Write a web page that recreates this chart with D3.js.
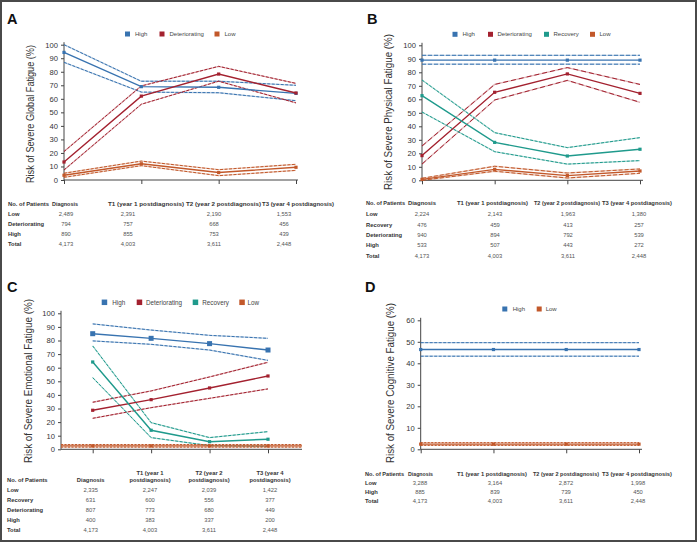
<!DOCTYPE html>
<html><head><meta charset="utf-8">
<script src="https://cdn.jsdelivr.net/npm/d3@7"></script>
<style>
body{margin:0;background:#fff}
svg{display:block}
text{font-family:"Liberation Sans",Arial,Helvetica,sans-serif}
</style>
</head><body>
<svg id="c" width="697" height="542"></svg>
<script>
// ---------- data ----------
const timeLabels = ["Diagnosis","T1 (year 1 postdiagnosis)","T2 (year 2 postdiagnosis)","T3 (year 4 postdiagnosis)"];
const ticks100 = [0,10,20,30,40,50,60,70,80,90,100];
const ticks60 = [0,10,20,30,40,50,60];

// Panel A – global fatigue
const aHigh = [94.3,69,68.5,64],  aHighLo = [87,65,64.5,58.6], aHighHi = [100,73,73,70];
const aDet  = [13.3,62,78.3,64.3], aDetLo = [7.4,56,73,57],    aDetHi = [21,69.5,84,71.4];
const aLow  = [3.5,12,5.5,9.4],    aLowLo = [2,10.6,3.2,7.1],  aLowHi = [5,14,7.6,11.6];

// Panel B – physical fatigue
const bHigh = [89,89,89,89],       bHighLo = [86,86,86,86],     bHighHi = [92.6,92.6,92.6,92.6];
const bDet  = [18.3,65.2,78.8,64.4], bDetLo = [12,59.5,74,57.8], bDetHi = [25.4,71,83.5,71];
const bRec  = [62.7,28.1,18,23],   bRecLo = [50.6,21.2,12,14.6], bRecHi = [74.3,35.3,24.2,31.6];
const bLow  = [0.7,8.1,3.5,6.9],   bLowLo = [0,6.7,1.7,5.2],    bLowHi = [1.5,10.4,5.4,8.4];

// Panel C – emotional fatigue
const cHigh = [85,81.6,77.7,73],   cHighLo = [79.7,77.2,73,65.4], cHighHi = [92.2,87.7,83.8,81.6];
const cDet  = [28.7,36.5,45.1,53.9], cDetLo = [22.8,30.6,37.5,44.4], cDetHi = [34.6,42.9,53.2,64];
const cRec  = [64.2,14,5.6,7.4],   cRecLo = [52.7,8.6,2.7,2.2],  cRecHi = [76,19.6,8.6,13];
const cLow  = [2.5,2.5,2.5,2.5],   cLowLo = [1.6,1.6,1.6,1.6],  cLowHi = [3.5,3.5,3.5,3.5];

// Panel D – cognitive fatigue
const dHigh = [46.4,46.4,46.4,46.4], dHighLo = [43.3,43.3,43.3,43.3], dHighHi = [49.6,49.6,49.6,49.6];
const dLow  = [2.4,2.4,2.4,2.4],   dLowLo = [1.8,1.8,1.8,1.8],  dLowHi = [3.1,3.1,3.1,3.1];

// Tables
const tblA_rows = ["Low","Deteriorating","High","Total"];
const tblA_vals = [["2,489","2,391","2,190","1,553"],["794","757","668","456"],["890","855","753","439"],["4,173","4,003","3,611","2,448"]];
const tblB_rows = ["Low","Recovery","Deteriorating","High","Total"];
const tblB_vals = [["2,224","2,143","1,963","1,380"],["476","459","413","257"],["940","894","792","539"],["533","507","443","272"],["4,173","4,003","3,611","2,448"]];
const tblC_rows = ["Low","Recovery","Deteriorating","High","Total"];
const tblC_vals = [["2,335","2,247","2,039","1,422"],["631","600","556","377"],["807","773","680","449"],["400","383","337","200"],["4,173","4,003","3,611","2,448"]];
const tblD_rows = ["Low","High","Total"];
const tblD_vals = [["3,288","3,164","2,872","1,998"],["885","839","739","450"],["4,173","4,003","3,611","2,448"]];

const colors = {High:"#3873b0", Deteriorating:"#a3212f", Recovery:"#1f9a8c", Low:"#c2582a"};

// ---------- drawing ----------
const svg = d3.select("#c");
svg.append("rect").attr("x",1).attr("y",1).attr("width",695).attr("height",540)
  .attr("fill","#fff").attr("stroke","#4a4a4a").attr("stroke-width",2);

function panel(cfg){
  const g = svg.append("g");
  const x = d3.scalePoint().domain(timeLabels).range(cfg.xRange);
  const y = d3.scaleLinear().domain([0,cfg.yMax]).range([cfg.y0,cfg.y1]);

  g.append("text").attr("x",cfg.letterX).attr("y",cfg.letterY).text(cfg.letter)
    .attr("font-size",14.5).attr("font-weight","bold").attr("fill","#111");

  const ya = g.append("g").attr("transform",`translate(${cfg.axisX},0)`)
    .call(d3.axisLeft(y).tickValues(cfg.yTicks).tickSize(3).tickPadding(3).tickSizeOuter(0));
  ya.select(".domain").remove();
  ya.selectAll(".tick line").attr("stroke","#444");
  ya.selectAll(".tick text").attr("font-size",7.6).attr("fill","#333")
    .attr("font-family","'Liberation Sans',Arial,sans-serif");
  g.append("line").attr("x1",cfg.axisX).attr("x2",cfg.axisX).attr("y1",cfg.y0).attr("y2",cfg.y1-2.5)
    .attr("stroke","#444").attr("stroke-width",1);

  const xa = g.append("g").attr("transform",`translate(0,${cfg.y0})`)
    .call(d3.axisBottom(x).tickSize(4).tickFormat(""));
  xa.select(".domain").remove();
  xa.selectAll(".tick line").attr("stroke","#444");
  g.append("line").attr("x1",cfg.axisX).attr("x2",cfg.axisEnd).attr("y1",cfg.y0).attr("y2",cfg.y0)
    .attr("stroke","#444").attr("stroke-width",1);

  g.append("text").attr("transform",`translate(${cfg.titleX},${cfg.titleY}) rotate(-90)`)
    .attr("text-anchor","middle").attr("font-size",11.5).attr("fill","#333")
    .attr("textLength",cfg.titleLen).attr("lengthAdjust","spacingAndGlyphs")
    .text(cfg.title);

  cfg.legend.forEach(l=>{
    g.append("rect").attr("x",l.sx).attr("y",cfg.legendY-cfg.legSq/2).attr("width",cfg.legSq).attr("height",cfg.legSq)
      .attr("fill",colors[l.name]);
    g.append("text").attr("x",l.tx).attr("y",cfg.legendY).attr("dy","0.35em")
      .attr("font-size",cfg.legFont).attr("fill","#444").text(l.name);
  });

  const line = d3.line().x((d,i)=>x(timeLabels[i])).y(d=>y(d));
  const plot = g.append("g");
  cfg.series.forEach(s=>{
    const col = colors[s.name];
    [s.lo,s.hi].forEach(b=>{
      const path = s.full ? `M${cfg.axisX},${y(b[0])}H${cfg.axisEnd}` : line(b);
      plot.append("path").attr("d",path).attr("fill","none").attr("stroke",col)
        .attr("stroke-opacity",0.35).attr("stroke-width",1.3);
      plot.append("path").attr("d",path).attr("fill","none").attr("stroke",col)
        .attr("stroke-width",1).attr("stroke-dasharray",s.dash||"3,1.5");
    });
  });
  cfg.series.forEach(s=>{
    const col = colors[s.name];
    const path = s.full ? `M${cfg.axisX},${y(s.mid[0])}H${cfg.axisEnd}` : line(s.mid);
    plot.append("path").attr("d",path).attr("fill","none").attr("stroke",col).attr("stroke-width",1.4);
    const m = s.marker||3.2;
    plot.selectAll(null).data(s.mid).enter().append("rect")
      .attr("x",(d,i)=>x(timeLabels[i])-m/2).attr("y",d=>y(d)-m/2)
      .attr("width",m).attr("height",m).attr("fill",col);
  });
}

function table(cfg){
  const g = svg.append("g").attr("font-size",5.8);
  const lab = g.append("text").attr("x",cfg.labelX).attr("y",cfg.headY).attr("dy","0.35em")
    .attr("font-weight","bold").attr("fill","#333").text("No. of Patients");
  if(cfg.labelLen) lab.attr("textLength",cfg.labelLen).attr("lengthAdjust","spacingAndGlyphs");
  cfg.heads.forEach((lines,i)=>{
    lines.forEach((t,j)=>{
      const tx = g.append("text").attr("x",cfg.headX[i]).attr("y",cfg.headY-(lines.length-1-j)*6.8).attr("dy","0.35em")
        .attr("text-anchor",cfg.headAnchor).attr("font-weight","bold").attr("fill","#333").text(t);
      if(cfg.headLen) tx.attr("textLength",cfg.headLen[i]).attr("lengthAdjust","spacingAndGlyphs");
    });
  });
  cfg.rows.forEach((r,ri)=>{
    const yy = cfg.rowY0 + ri*cfg.rowStep;
    g.append("text").attr("x",cfg.labelX).attr("y",yy).attr("dy","0.35em")
      .attr("font-weight","bold").attr("fill","#333").text(r);
    cfg.vals[ri].forEach((v,ci)=>{
      g.append("text").attr("x",cfg.valX[ci]).attr("y",yy).attr("dy","0.35em")
        .attr("text-anchor","middle").attr("fill","#555").text(v);
    });
  });
}

panel({letter:"A",letterX:7,letterY:23.5,xRange:[64,296],axisX:64,axisEnd:298,y0:180,y1:44.7,yMax:100,yTicks:ticks100,
  title:"Risk of Severe Global Fatigue (%)",titleX:34,titleY:114,titleLen:138,
  legendY:34,legSq:5,legFont:6,
  legend:[{name:"High",sx:125,tx:135},{name:"Deteriorating",sx:159.5,tx:169.5},{name:"Low",sx:214.5,tx:224.5}],
  series:[
    {name:"High",mid:aHigh,lo:aHighLo,hi:aHighHi},
    {name:"Deteriorating",mid:aDet,lo:aDetLo,hi:aDetHi},
    {name:"Low",mid:aLow,lo:aLowLo,hi:aLowHi}
  ]});
panel({letter:"B",letterX:367,letterY:23.5,xRange:[422,640],axisX:422,axisEnd:643,y0:180.3,y1:45.3,yMax:100,yTicks:ticks100,
  title:"Risk of Severe Physical Fatigue (%)",titleX:392,titleY:112,titleLen:156,
  legendY:34.3,legSq:5,legFont:6,
  legend:[{name:"High",sx:452.5,tx:462.5},{name:"Deteriorating",sx:488,tx:497.5},{name:"Recovery",sx:544,tx:553.5},{name:"Low",sx:590,tx:599.5}],
  series:[
    {name:"High",mid:bHigh,lo:bHighLo,hi:bHighHi,dash:"4,2"},
    {name:"Deteriorating",mid:bDet,lo:bDetLo,hi:bDetHi,dash:"5,3"},
    {name:"Recovery",mid:bRec,lo:bRecLo,hi:bRecHi},
    {name:"Low",mid:bLow,lo:bLowLo,hi:bLowHi,dash:"4,2"}
  ]});
panel({letter:"C",letterX:7,letterY:292,xRange:[92.7,268],axisX:61,axisEnd:302,y0:449.3,y1:313.3,yMax:100,yTicks:ticks100,
  title:"Risk of Severe Emotional Fatigue (%)",titleX:32,titleY:381,titleLen:164,
  legendY:302.3,legSq:5.5,legFont:6.3,
  legend:[{name:"High",sx:101.7,tx:112.3},{name:"Deteriorating",sx:136.7,tx:146},{name:"Recovery",sx:192.7,tx:202.3},{name:"Low",sx:239.3,tx:247.5}],
  series:[
    {name:"High",mid:cHigh,lo:cHighLo,hi:cHighHi,marker:5},
    {name:"Deteriorating",mid:cDet,lo:cDetLo,hi:cDetHi},
    {name:"Recovery",mid:cRec,lo:cRecLo,hi:cRecHi},
    {name:"Low",mid:cLow,lo:cLowLo,hi:cLowHi,full:true,dash:"2,1.5"}
  ]});
panel({letter:"D",letterX:365,letterY:292,xRange:[420.7,639],axisX:420.7,axisEnd:642,y0:449.3,y1:320.3,yMax:60,yTicks:ticks60,
  title:"Risk of Severe Cognitive Fatigue (%)",titleX:394,titleY:383,titleLen:160,
  legendY:309,legSq:5,legFont:6,
  legend:[{name:"High",sx:502.3,tx:512.7},{name:"Low",sx:536.7,tx:545.7}],
  series:[
    {name:"High",mid:dHigh,lo:dHighLo,hi:dHighHi},
    {name:"Low",mid:dLow,lo:dLowLo,hi:dLowHi,dash:"2,1.5"}
  ]});

const headOne = timeLabels.map(t=>[t]);
table({labelX:8,headY:203.5,heads:headOne,headX:[52,108,186,262],headAnchor:"start",labelLen:41,headLen:[26,76,75,72],
  rows:tblA_rows,vals:tblA_vals,valX:[66,128,214,284],rowY0:214,rowStep:10.1});
table({labelX:366,headY:202.8,heads:headOne,headX:[408,457,534,602],headAnchor:"start",labelLen:39,headLen:[28,71,66,70],
  rows:tblB_rows,vals:tblB_vals,valX:[422,495,568,639],rowY0:214.3,rowStep:10.35});
table({labelX:7,headY:480,heads:[["Diagnosis"],["T1 (year 1","postdiagnosis)"],["T2 (year 2","postdiagnosis)"],["T3 (year 4","postdiagnosis)"]],
  headX:[90.7,150,209,270],headAnchor:"middle",
  rows:tblC_rows,vals:tblC_vals,valX:[90.7,150,209,270],rowY0:490,rowStep:10});
table({labelX:365,headY:474,heads:headOne,headX:[408,457,533,602],headAnchor:"start",labelLen:39,headLen:[25,70,66,70],
  rows:tblD_rows,vals:tblD_vals,valX:[420,495,566,638],rowY0:482.7,rowStep:9.2});
</script>
</body></html>
